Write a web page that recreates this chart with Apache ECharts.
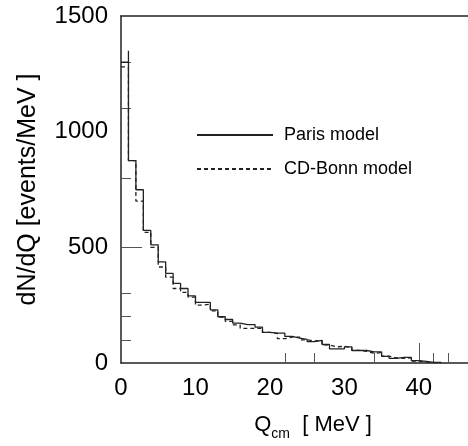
<!DOCTYPE html>
<html>
<head>
<meta charset="utf-8">
<script src="https://cdn.jsdelivr.net/npm/echarts@6/dist/echarts.min.js"></script>
<style>
  html, body { margin: 0; padding: 0; background: #fff; }
  #chart { width: 468px; height: 446px; }
</style>
</head>
<body>
<div id="chart"></div>
<script>
  // bin left edges in MeV (1 MeV bins)
  const binEdges = [0, 1, 2, 3, 4, 5, 6, 7, 8, 9, 10, 11, 12, 13, 14, 15, 16, 17, 18, 19, 20,
    21, 22, 23, 24, 25, 26, 27, 28, 29, 30, 31, 32, 33, 34, 35, 36, 37, 38, 39, 40, 41, 42];
  const parisValues = [1300, 875, 749, 573, 511, 437, 387, 344, 322, 290, 262, 262, 230, 200, 188,
    172, 166, 166, 155, 132, 129, 129, 115, 108, 102, 92, 98, 80, 61, 61, 70, 54, 54, 48, 48,
    29, 20, 24, 24, 10, 7, 3, 3];
  const bonnValues = [1280, 875, 700, 565, 500, 415, 371, 322, 305, 285, 250, 255, 225, 198, 180,
    165, 150, 150, 150, 132, 128, 105, 112, 112, 100, 95, 98, 78, 70, 72, 66, 55, 50, 42, 45,
    30, 22, 20, 22, 8, 5, 2, 2];
  const parisPeak = 1350; // narrow spike at the 1 MeV edge
  const binWidth = 1;

  const xMax = 46.6; // frame is cut at the right edge of the picture
  const yLabels = [0, 500, 1000, 1500];
  const yMinorTicks = [100, 200, 300, 800, 1100, 1300];
  const yMajorTicks = [500];
  const xLabels = [0, 10, 20, 30, 40];
  const xMinorTicks = [22, 26, 34, 42, 44];
  const xMajorTicks = [40];

  function stepData(values, peak) {
    const pts = [];
    values.forEach((v, i) => {
      pts.push([binEdges[i], v]);
      if (i === 0 && peak) pts.push([binEdges[1], peak]);
    });
    const last = binEdges[binEdges.length - 1] + binWidth;
    pts.push([last, 0]);
    return pts;
  }

  const font = "Liberation Sans, Arial, sans-serif";
  const ink = "#222";
  const plain = (v) => String(v);

  const chart = echarts.init(document.getElementById("chart"), null, { renderer: "canvas" });
  chart.setOption({
    animation: false,
    backgroundColor: "#fff",
    textStyle: { fontFamily: font, color: "#000" },
    grid: { left: 121, top: 16, right: 0, height: 349 },
    legend: {
      orient: "vertical",
      left: 196,
      top: 126,
      padding: 0,
      itemWidth: 76,
      itemHeight: 14,
      itemGap: 16,
      itemStyle: { opacity: 0 },
      textStyle: { fontSize: 18, fontFamily: font, color: "#000", padding: [0, 0, 0, 6] },
      data: ["Paris model", "CD-Bonn model"]
    },
    xAxis: [
      {
        type: "value", min: 0, max: xMax,
        name: "{a|Q}{sub|cm}{a|  [ MeV ]}",
        nameLocation: "middle",
        nameGap: 46,
        nameTextStyle: {
          padding: [0, 0, 0, 37],
          rich: {
            a: { fontSize: 22, fontFamily: font, color: "#000", lineHeight: 32, verticalAlign: "middle" },
            sub: { fontSize: 14, fontFamily: font, color: "#000", lineHeight: 14, verticalAlign: "bottom" }
          }
        },
        axisLine: { show: true, lineStyle: { color: ink, width: 1.5 } },
        axisTick: { show: true, inside: true, length: 10, customValues: xMinorTicks, lineStyle: { color: "#555", width: 1 } },
        axisLabel: { customValues: xLabels, formatter: plain, fontSize: 24, margin: 13, color: "#000", fontFamily: font },
        splitLine: { show: false }
      },
      {
        type: "value", min: 0, max: xMax, position: "bottom",
        axisLine: { show: false },
        axisTick: { show: true, inside: true, length: 20, customValues: xMajorTicks, lineStyle: { color: "#555", width: 1 } },
        axisLabel: { show: false },
        splitLine: { show: false }
      },
      {
        // top frame line
        type: "value", min: 0, max: xMax, position: "top",
        axisLine: { show: true, onZero: false, lineStyle: { color: ink, width: 1.6 } },
        axisTick: { show: false },
        axisLabel: { show: false },
        splitLine: { show: false }
      }
    ],
    yAxis: [
      {
        type: "value", min: 0, max: 1500,
        name: "dN/dQ [events/MeV ]",
        nameLocation: "middle",
        nameGap: 80,
        nameTextStyle: { fontSize: 25, fontFamily: font, color: "#000" },
        axisLine: { show: true, lineStyle: { color: ink, width: 1.5 } },
        axisTick: { show: true, inside: true, length: 10, customValues: yMinorTicks, lineStyle: { color: "#555", width: 1 } },
        axisLabel: { customValues: yLabels, formatter: plain, fontSize: 24, margin: 13, color: "#000", fontFamily: font },
        splitLine: { show: false }
      },
      {
        type: "value", min: 0, max: 1500, position: "left",
        axisLine: { show: false },
        axisTick: { show: true, inside: true, length: 21, customValues: yMajorTicks, lineStyle: { color: "#555", width: 1 } },
        axisLabel: { show: false },
        splitLine: { show: false }
      }
    ],
    series: [
      {
        name: "Paris model", type: "line", step: "end", symbol: "none",
        data: stepData(parisValues, parisPeak),
        lineStyle: { color: ink, width: 1.3, type: "solid" },
        itemStyle: { color: ink },
        z: 3
      },
      {
        name: "CD-Bonn model", type: "line", step: "end", symbol: "none",
        data: stepData(bonnValues, null),
        lineStyle: { color: ink, width: 1.3, type: [4, 3] },
        itemStyle: { color: ink },
        z: 2
      }
    ]
  });
</script>
</body>
</html>
